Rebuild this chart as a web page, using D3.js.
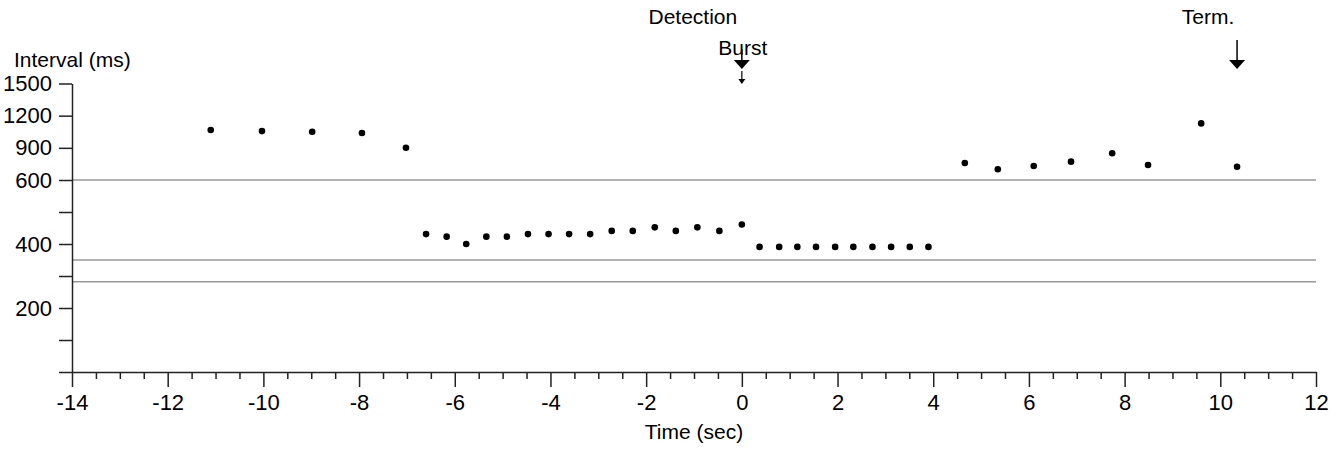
<!DOCTYPE html>
<html>
<head>
<meta charset="utf-8">
<script src="https://cdn.jsdelivr.net/npm/d3@7"></script>
<style>
  body { margin: 0; background: #fff; }
  text { font-family: "Liberation Sans", Arial, sans-serif; fill: #000; }
</style>
</head>
<body>
<div id="chart"></div>
<script>
// Beat times (sec, relative to detection) and intervals (ms)
const beatTimes = [
    -11.10, -10.03, -8.98, -7.94, -7.02,
    -6.60, -6.17, -5.76, -5.34, -4.91, -4.47, -4.04, -3.61, -3.17, -2.72,
    -2.28, -1.82, -1.38, -0.93, -0.47, 0.00,
    0.37, 0.78, 1.16, 1.55, 1.95, 2.33, 2.73, 3.12, 3.51, 3.90,
    4.66, 5.35, 6.10, 6.88, 7.74, 8.49, 9.60, 10.35
];
const beatIntervals = [
    1066, 1056, 1050, 1038, 901,
    431, 423, 400, 423, 423, 431, 431, 431, 431, 441,
    441, 452, 441, 452, 441, 461,
    391, 391, 391, 391, 391, 391, 391, 391, 391, 391,
    758, 700, 730, 771, 849, 740, 1128, 724
];

// Zone boundary lines (ms)
const zoneLines = [600, 350, 282];

// Axis ticks
const xMajorTicks = d3.range(-14, 13, 2);
const xMinorTicks = d3.range(-14, 12.01, 0.5).filter(d => d % 2 !== 0);
const yTicks = [0, 100, 200, 300, 400, 500, 600, 900, 1200, 1500];
const yLabeled = [200, 400, 600, 900, 1200, 1500];

// Event markers
const burstTime = 0;
const termTime = 10.35;

const margin = { top: 84, right: 23, bottom: 79, left: 72 },
      width = 1339 - margin.left - margin.right,
      height = 451 - margin.top - margin.bottom;

const svg = d3.select("#chart")
    .append("svg")
    .attr("width", 1339)
    .attr("height", 451)
    .append("g")
    .attr("transform", `translate(${margin.left},${margin.top})`);

const x = d3.scaleLinear().domain([-14, 12]).range([0, width]);
// Non-linear interval axis: 100 ms steps below 600, 300 ms steps above
const y = d3.scaleLinear().domain([0, 600, 1500]).range([height, height - 192, -0.5]);

// Zone lines
svg.selectAll(".zone")
    .data(zoneLines)
    .enter()
    .append("line")
    .attr("x1", 0)
    .attr("x2", width)
    .attr("y1", d => y(d))
    .attr("y2", d => y(d))
    .attr("stroke", "#999")
    .attr("stroke-width", 1.6);

// Minor x ticks
svg.append("g")
    .attr("transform", `translate(0,${height})`)
    .call(d3.axisBottom(x).tickValues(xMinorTicks).tickSize(7).tickSizeOuter(0).tickFormat(""))
    .call(g => g.select(".domain").remove())
    .call(g => g.selectAll("line").attr("stroke", "#222").attr("stroke-width", 1.5));

// Major x axis
svg.append("g")
    .attr("transform", `translate(0,${height})`)
    .call(d3.axisBottom(x).tickValues(xMajorTicks).tickSize(15).tickSizeOuter(0).tickPadding(7)
        .tickFormat(d => String(d)))
    .call(g => g.select(".domain").attr("stroke", "#222").attr("stroke-width", 1.5))
    .call(g => g.selectAll("line").attr("stroke", "#222").attr("stroke-width", 1.5))
    .call(g => g.selectAll("text").attr("font-size", "22px").attr("font-family", null));

// Y axis
svg.append("g")
    .call(d3.axisLeft(y).tickValues(yTicks).tickSize(13).tickSizeOuter(0).tickPadding(7)
        .tickFormat(d => yLabeled.includes(d) ? String(d) : ""))
    .call(g => g.select(".domain").attr("stroke", "#222").attr("stroke-width", 1.5))
    .call(g => g.selectAll("line").attr("stroke", "#222").attr("stroke-width", 1.5))
    .call(g => g.selectAll("text").attr("font-size", "22px").attr("font-family", null));

// Axis titles
svg.append("text")
    .attr("x", -58)
    .attr("y", -17)
    .attr("font-size", "21px")
    .text("Interval (ms)");

svg.append("text")
    .attr("x", width / 2)
    .attr("y", height + 67)
    .attr("text-anchor", "middle")
    .attr("font-size", "21px")
    .text("Time (sec)");

// Beats
svg.selectAll(".beat")
    .data(beatTimes.map((t, i) => [t, beatIntervals[i]]))
    .enter()
    .append("circle")
    .attr("cx", d => x(d[0]))
    .attr("cy", d => y(d[1]))
    .attr("r", 3.3)
    .attr("fill", "#000");

// Arrow helpers (tip at y = tipY)
function bigArrow(cx, topY, tipY) {
    svg.append("line")
        .attr("x1", cx).attr("x2", cx)
        .attr("y1", topY).attr("y2", tipY - 6)
        .attr("stroke", "#000").attr("stroke-width", 1.5);
    svg.append("path")
        .attr("d", `M${cx - 8},${tipY - 9} L${cx + 8},${tipY - 9} L${cx},${tipY} Z`)
        .attr("fill", "#000");
}

function smallArrow(cx, topY, tipY) {
    svg.append("line")
        .attr("x1", cx).attr("x2", cx)
        .attr("y1", topY).attr("y2", tipY - 2)
        .attr("stroke", "#000").attr("stroke-width", 1.2);
    svg.append("path")
        .attr("d", `M${cx - 3.5},${tipY - 5} L${cx + 3.5},${tipY - 5} L${cx},${tipY} Z`)
        .attr("fill", "#000");
}

// Detection / Burst markers
svg.append("text")
    .attr("x", x(burstTime) - 49)
    .attr("y", -60)
    .attr("text-anchor", "middle")
    .attr("font-size", "21px")
    .text("Detection");

svg.append("text")
    .attr("x", x(burstTime) + 1)
    .attr("y", -29)
    .attr("text-anchor", "middle")
    .attr("font-size", "21px")
    .text("Burst");

bigArrow(x(burstTime), -35, -15);
smallArrow(x(burstTime), -13, 0);

// Termination marker
svg.append("text")
    .attr("x", x(termTime) - 29)
    .attr("y", -60)
    .attr("text-anchor", "middle")
    .attr("font-size", "21px")
    .text("Term.");

bigArrow(x(termTime), -44, -15);
</script>
</body>
</html>
